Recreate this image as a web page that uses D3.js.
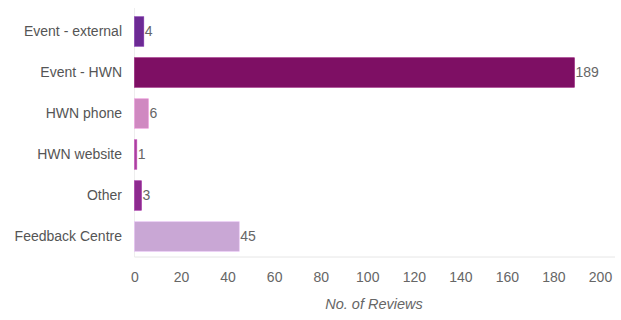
<!DOCTYPE html>
<html><head><meta charset="utf-8">
<script src="https://cdn.jsdelivr.net/npm/d3@7"></script>
<style>body{margin:0;background:#fff}svg{display:block;font-family:"Liberation Sans",Arial,sans-serif}</style>
</head><body>
<script>
const categories = ["Event - external","Event - HWN","HWN phone","HWN website","Other","Feedback Centre"];
const values = [4,189,6,1,3,45];
const colors = ["#6c2a94","#7e0f64","#d089c1","#a9419f","#8d2a8f","#c9a7d5"];
const xTicks = [0,20,40,60,80,100,120,140,160,180,200];
const xTitle = "No. of Reviews";

const W=621,H=320;
const svg=d3.select("body").append("svg").attr("width",W).attr("height",H);
const x=d3.scaleLinear().domain([0,200]).range([134.5,600]);
const y=d3.scaleBand().domain(categories).range([11,257]).paddingInner(0.28).paddingOuter(0.14);

svg.append("line").attr("x1",x(0)).attr("x2",x(0)).attr("y1",8).attr("y2",257).attr("stroke","#eeeeee");
svg.append("line").attr("x1",x(0)).attr("x2",615).attr("y1",257).attr("y2",257).attr("stroke","#e6e6e6");

svg.selectAll("rect.bar").data(categories).enter().append("rect")
 .attr("x",x(0)).attr("y",d=>y(d)).attr("height",y.bandwidth())
 .attr("width",(d,i)=>x(values[i])-x(0)).attr("fill",(d,i)=>colors[i])
 .attr("stroke",(d,i)=>d3.color(colors[i]).brighter(0.4)).attr("stroke-width",0.6);

svg.selectAll("text.val").data(categories).enter().append("text")
 .attr("x",(d,i)=>x(values[i])+1).attr("y",d=>y(d)+y.bandwidth()/2).attr("dy","0.35em")
 .attr("font-size",14).attr("fill","#666").text((d,i)=>values[i]);

svg.selectAll("text.cat").data(categories).enter().append("text")
 .attr("x",122).attr("y",d=>y(d)+y.bandwidth()/2).attr("dy","0.35em").attr("text-anchor","end")
 .attr("font-size",14).attr("fill","#555").text(d=>d);

const ax=svg.append("g").attr("transform","translate(0,257)")
 .call(d3.axisBottom(x).tickValues(xTicks).tickSize(0).tickPadding(15));
ax.select(".domain").remove();
ax.selectAll("text").attr("font-size",14).attr("fill","#666").attr("font-family","Liberation Sans, Arial, sans-serif");

svg.append("text").attr("x",374).attr("y",309).attr("text-anchor","middle")
 .attr("font-size",14.5).attr("font-style","italic").attr("fill","#666").text(xTitle);
</script>
</body></html>
